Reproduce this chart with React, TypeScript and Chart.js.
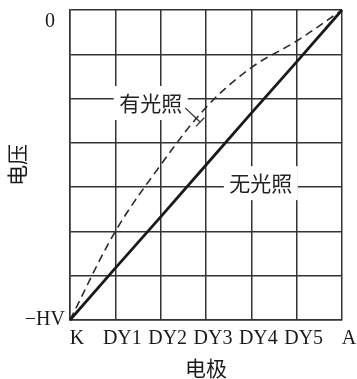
import React, { useEffect, useRef } from "react";
import { Chart, registerables } from "chart.js";

Chart.register(...registerables);

// Electrodes of the photomultiplier, from cathode to anode
const ELECTRODES = ["K", "DY1", "DY2", "DY3", "DY4", "DY5", "A"];

// Electrode voltage in grid units (−HV = −7, ground = 0)
const VOLTAGE_DARK = [-7, -5.83, -4.67, -3.5, -2.33, -1.17, 0]; // 无光照
const VOLTAGE_LIGHT = [-7, -5.0, -3.5, -2.2, -1.3, -0.7, 0]; // 有光照

const Y_MIN = -7;
const Y_MAX = 0;
const Y_LABEL_MIN = "−HV";
const Y_LABEL_MAX = "0  ";

const X_TITLE = "电极";
const Y_TITLE = "电压";

const LABEL_LIGHT = "有光照";
const LABEL_DARK = "无光照";

const SERIF = '"Liberation Serif", "Noto Sans CJK SC", serif';
const CJK = '"Noto Sans CJK SC", sans-serif';
const GRID = "#333333";
const INK = "#1a1a1a";

// Curve captions placed in data coordinates, with an optional leader line
const CURVE_LABELS = [
  { text: LABEL_LIGHT, x: 1.78, y: -2.1, leader: [2.54, -2.21, 2.87, -2.53] },
  { text: LABEL_DARK, x: 4.21, y: -3.91, leader: null as null | number[] },
];

const curveLabelPlugin = {
  id: "curveLabels",
  beforeDatasetsDraw(chart: any) {
    const { ctx } = chart;
    const xs = chart.scales.x;
    const ys = chart.scales.y;
    ctx.save();
    for (const a of CURVE_LABELS) {
      const cx = xs.getPixelForValue(a.x);
      const cy = ys.getPixelForValue(a.y);
      ctx.fillStyle = "#ffffff";
      ctx.fillRect(cx - 37, cy - 17, 74, 34);
      ctx.fillStyle = "#222";
      ctx.font = `21px ${CJK}`;
      ctx.textAlign = "center";
      ctx.textBaseline = "middle";
      ctx.fillText(a.text, cx, cy);
      if (a.leader) {
        const x1 = xs.getPixelForValue(a.leader[0]);
        const y1 = ys.getPixelForValue(a.leader[1]);
        const x2 = xs.getPixelForValue(a.leader[2]);
        const y2 = ys.getPixelForValue(a.leader[3]);
        ctx.strokeStyle = "#333";
        ctx.lineWidth = 1.3;
        ctx.beginPath();
        ctx.moveTo(x1, y1);
        ctx.lineTo(x2, y2);
        const len = Math.hypot(x2 - x1, y2 - y1);
        const px = -(y2 - y1) / len;
        const py = (x2 - x1) / len;
        ctx.moveTo(x2 - px * 6, y2 - py * 6);
        ctx.lineTo(x2 + px * 6, y2 + py * 6);
        ctx.stroke();
      }
    }
    ctx.restore();
  },
};

export default function App() {
  const canvasRef = useRef<HTMLCanvasElement | null>(null);

  useEffect(() => {
    const canvas = canvasRef.current;
    if (!canvas) return;
    const chart = new Chart(canvas, {
      type: "line",
      data: {
        labels: ELECTRODES,
        datasets: [
          {
            label: LABEL_DARK,
            data: VOLTAGE_DARK,
            borderColor: INK,
            borderWidth: 2.8,
            pointRadius: 0,
            tension: 0,
            clip: 4,
          },
          {
            label: LABEL_LIGHT,
            data: VOLTAGE_LIGHT,
            borderColor: "#2a2a2a",
            borderWidth: 1.6,
            borderDash: [8, 5],
            pointRadius: 0,
            tension: 0.35,
            clip: 4,
          },
        ],
      },
      options: {
        animation: false,
        responsive: false,
        maintainAspectRatio: false,
        layout: { padding: { left: 0, top: 10, right: 15, bottom: 0 } },
        plugins: {
          legend: { display: false },
          tooltip: { enabled: false },
        },
        scales: {
          x: {
            type: "category",
            offset: false,
            grid: {
              offset: false,
              color: GRID,
              lineWidth: 1.5,
              drawTicks: false,
            },
            border: { color: GRID, width: 1.5 },
            ticks: {
              autoSkip: false,
              maxRotation: 0,
              padding: 7,
              labelOffset: 7,
              color: INK,
              font: { family: SERIF, size: 20, lineHeight: 1.2 },
            },
            title: {
              display: true,
              text: X_TITLE,
              color: INK,
              font: { family: CJK, size: 21, lineHeight: 1 },
              padding: { top: 0, bottom: 0 },
            },
            afterFit: (scale: any) => {
              scale.height = 59;
              scale.paddingLeft = 0;
              scale.paddingRight = 0;
            },
          },
          y: {
            type: "linear",
            min: Y_MIN,
            max: Y_MAX,
            grid: {
              color: GRID,
              lineWidth: 1.5,
              drawTicks: false,
            },
            border: { color: GRID, width: 1.5 },
            ticks: {
              stepSize: 1,
              autoSkip: false,
              padding: 5,
              color: INK,
              font: { family: SERIF, size: 20, lineHeight: 1.2 },
              callback: (value: any) => {
                if (value === Y_MIN) return Y_LABEL_MIN;
                if (value === Y_MAX) return ["", Y_LABEL_MAX];
                return "";
              },
            },
            title: {
              display: true,
              text: Y_TITLE,
              color: INK,
              font: { family: CJK, size: 21, lineHeight: 1 },
              padding: { top: 7, bottom: 0 },
            },
            afterFit: (scale: any) => {
              scale.width = 70;
              scale.paddingTop = 0;
              scale.paddingBottom = 0;
            },
          },
        },
      },
      plugins: [curveLabelPlugin],
    });
    return () => chart.destroy();
  }, []);

  return (
    <div
      style={{
        position: "fixed",
        left: 0,
        top: 0,
        width: 357,
        height: 379,
        background: "#ffffff",
      }}
    >
      <canvas ref={canvasRef} width={357} height={379} />
    </div>
  );
}
